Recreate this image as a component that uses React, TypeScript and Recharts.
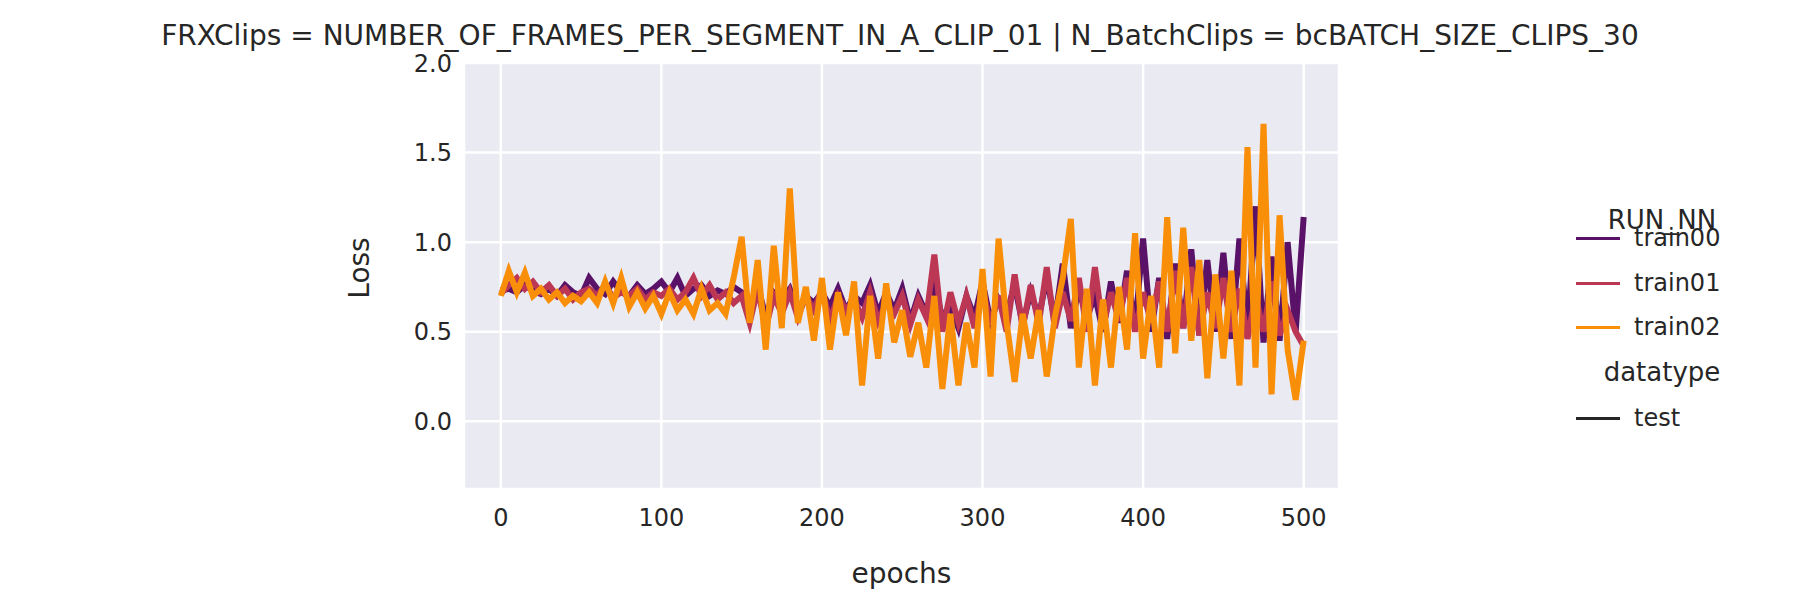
import React from "react";
import { LineChart, Line, XAxis, YAxis, CartesianGrid } from "recharts";

const epochs: number[] = Array.from({ length: 101 }, (_, i) => i * 5);
const train00: number[] = [0.73,0.74,0.72,0.76,0.73,0.71,0.74,0.70,0.76,0.72,0.70,0.80,0.74,0.71,0.78,0.72,0.70,0.76,0.71,0.74,0.78,0.72,0.80,0.70,0.74,0.76,0.70,0.73,0.71,0.75,0.72,0.62,0.76,0.58,0.72,0.68,0.74,0.62,0.70,0.66,0.72,0.64,0.74,0.62,0.70,0.66,0.76,0.60,0.72,0.62,0.74,0.56,0.70,0.60,0.76,0.58,0.64,0.52,0.70,0.58,0.78,0.56,0.68,0.60,0.76,0.54,0.72,0.58,0.80,0.56,0.88,0.52,0.74,0.58,0.70,0.50,0.78,0.55,0.84,0.52,1.02,0.50,0.80,0.46,0.88,0.52,0.96,0.48,0.90,0.50,0.94,0.46,1.02,0.50,1.20,0.44,0.92,0.45,1.00,0.50,1.14];
const train01: number[] = [0.71,0.76,0.80,0.74,0.78,0.72,0.76,0.70,0.74,0.68,0.72,0.74,0.70,0.76,0.69,0.72,0.70,0.74,0.68,0.72,0.70,0.74,0.68,0.72,0.80,0.70,0.76,0.68,0.72,0.66,0.70,0.55,0.74,0.52,0.70,0.60,0.72,0.58,0.70,0.62,0.74,0.56,0.70,0.62,0.68,0.58,0.72,0.56,0.66,0.60,0.70,0.54,0.68,0.58,0.93,0.50,0.72,0.55,0.70,0.52,0.74,0.54,0.70,0.50,0.82,0.52,0.76,0.54,0.86,0.52,0.72,0.56,0.80,0.50,0.86,0.52,0.72,0.56,0.80,0.50,0.72,0.55,0.78,0.50,0.84,0.52,0.86,0.48,0.72,0.52,0.80,0.50,0.74,0.46,0.70,0.50,0.78,0.48,0.62,0.50,0.42];
const train02: number[] = [0.70,0.84,0.72,0.83,0.70,0.74,0.68,0.72,0.66,0.70,0.67,0.72,0.66,0.78,0.66,0.80,0.64,0.72,0.63,0.70,0.60,0.72,0.62,0.68,0.60,0.74,0.62,0.66,0.60,0.80,1.03,0.55,0.90,0.40,0.98,0.52,1.30,0.55,0.75,0.45,0.80,0.40,0.72,0.48,0.78,0.20,0.70,0.35,0.77,0.44,0.62,0.36,0.55,0.30,0.70,0.18,0.60,0.20,0.55,0.30,0.85,0.25,1.02,0.55,0.22,0.60,0.35,0.62,0.25,0.58,0.80,1.13,0.30,0.74,0.20,0.68,0.30,0.75,0.40,1.05,0.35,0.70,0.30,1.14,0.38,1.08,0.45,0.90,0.24,0.82,0.35,0.84,0.20,1.53,0.30,1.66,0.15,1.15,0.40,0.12,0.45];
const xTicks: number[] = [0, 100, 200, 300, 400, 500];
const yTicks: number[] = [0, 0.5, 1.0, 1.5, 2.0];

const data = epochs.map((e, i) => ({ epoch: e, train00: train00[i], train01: train01[i], train02: train02[i] }));
const font = "'DejaVu Sans', sans-serif";
const txt = "#262626";

export default function App() {
  const legendItem = (label: string, color: string, y: number) => (
    <div style={{ position: "absolute", left: 1568, top: y - 18, height: 36, display: "flex", alignItems: "center" }}>
      <div style={{ width: 44, height: 3, background: color, marginRight: 14 }} />
      <span style={{ fontSize: 24, lineHeight: "36px" }}>{label}</span>
    </div>
  );
  return (
    <div style={{ position: "relative", width: 1785, height: 600, fontFamily: font, color: txt }}>
      <LineChart width={1785} height={600} data={data} margin={{ top: 55, right: 454, bottom: 59, left: 396 }}>
        <CartesianGrid fill="#EAEAF2" stroke="#ffffff" strokeWidth={2.5} />
        <XAxis dataKey="epoch" type="number" domain={[-22.9, 522]} ticks={xTicks} height={60} axisLine={false} tickLine={false}
          tick={{ fontSize: 24, fill: txt, fontFamily: font }} tickMargin={14} />
        <YAxis type="number" domain={[-0.378, 2.0]} ticks={yTicks} width={60} axisLine={false} tickLine={false}
          tickFormatter={(v: number) => v.toFixed(1)} tick={{ fontSize: 24, fill: txt, fontFamily: font }} tickMargin={6} allowDataOverflow />
        <Line dataKey="train00" stroke="#5a1269" strokeWidth={6} dot={false} isAnimationActive={false} />
        <Line dataKey="train01" stroke="#bc3754" strokeWidth={6} dot={false} isAnimationActive={false} />
        <Line dataKey="train02" stroke="#f98e09" strokeWidth={6} dot={false} isAnimationActive={false} />
      </LineChart>
      <div style={{ position: "absolute", left: 0, width: 1784, top: 28 - 18, lineHeight: "36px", textAlign: "center", fontSize: 28, whiteSpace: "nowrap" }}>
        FRXClips = NUMBER_OF_FRAMES_PER_SEGMENT_IN_A_CLIP_01 | N_BatchClips = bcBATCH_SIZE_CLIPS_30
      </div>
      <div style={{ position: "absolute", left: 456, width: 875, top: 566 - 18, lineHeight: "36px", textAlign: "center", fontSize: 28 }}>epochs</div>
      <div style={{ position: "absolute", left: 352 - 60, top: 260 - 18, width: 120, lineHeight: "36px", textAlign: "center", fontSize: 28, transform: "rotate(-90deg)" }}>Loss</div>
      <div style={{ position: "absolute", left: 1594, width: 120, top: 212 - 18, lineHeight: "36px", textAlign: "center", fontSize: 26 }}>RUN_NN</div>
      {legendItem("train00", "#5a1269", 230)}
      {legendItem("train01", "#bc3754", 275)}
      {legendItem("train02", "#f98e09", 319)}
      <div style={{ position: "absolute", left: 1584, width: 140, top: 364 - 18, lineHeight: "36px", textAlign: "center", fontSize: 26 }}>datatype</div>
      {legendItem("test", "#262626", 410)}
    </div>
  );
}
